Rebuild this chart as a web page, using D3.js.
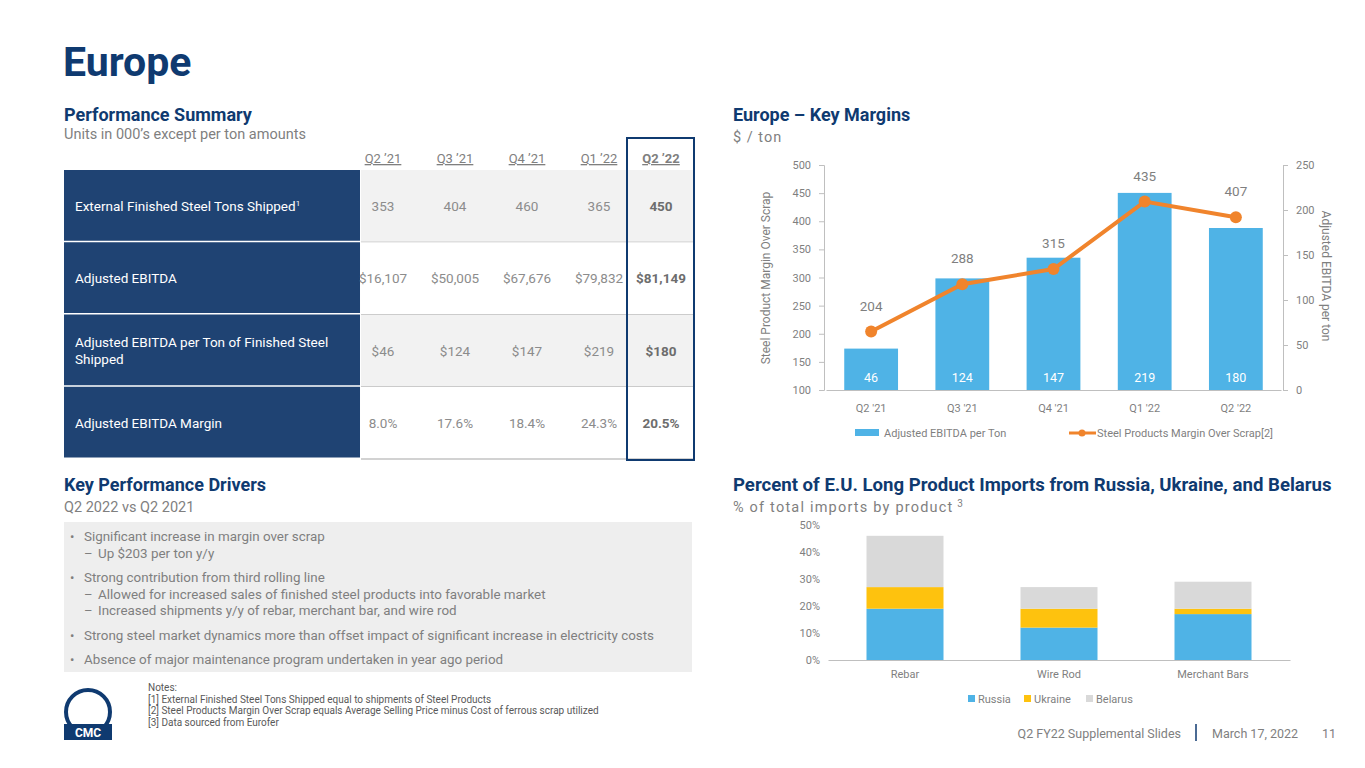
<!DOCTYPE html>
<html><head><meta charset="utf-8">
<script src="https://cdn.jsdelivr.net/npm/d3@7"></script>
<style>body{margin:0;background:#fff;font-family:Roboto,"Noto Sans",sans-serif}</style>
</head><body><svg id="slide" width="1365" height="768"></svg>
<script>
// table data
const quarters = ["Q2 ’21", "Q3 ’21", "Q4 ’21", "Q1 ’22", "Q2 ’22"];
const rowLabels = [["External Finished Steel Tons Shipped"], ["Adjusted EBITDA"], ["Adjusted EBITDA per Ton of Finished Steel", "Shipped"], ["Adjusted EBITDA Margin"]];
const tonsShipped = ["353", "404", "460", "365", "450"];
const adjEbitda = ["$16,107", "$50,005", "$67,676", "$79,832", "$81,149"];
const ebitdaPerTon = ["$46", "$124", "$147", "$219", "$180"];
const ebitdaMargin = ["8.0%", "17.6%", "18.4%", "24.3%", "20.5%"];

// key margins chart
const marginQuarters = ["Q2 '21", "Q3 '21", "Q4 '21", "Q1 '22", "Q2 '22"];
const ebitdaPerTonVals = [46, 124, 147, 219, 180];
const marginOverScrap = [204, 288, 315, 435, 407];

// imports chart
const products = ["Rebar", "Wire Rod", "Merchant Bars"];
const russia = [19, 12, 17];
const ukraine = [8, 7, 2];
const belarus = [19, 8, 10];

const bullets = [
  [0, "Significant increase in margin over scrap"], [1, "Up $203 per ton y/y"],
  [0, "Strong contribution from third rolling line"], [1, "Allowed for increased sales of finished steel products into favorable market"],
  [1, "Increased shipments y/y of rebar, merchant bar, and wire rod"],
  [0, "Strong steel market dynamics more than offset impact of significant increase in electricity costs"],
  [0, "Absence of major maintenance program undertaken in year ago period"]
];
const notes = ["Notes:", "[1]  External Finished Steel Tons Shipped equal to shipments of Steel Products",
  "[2]  Steel Products Margin Over Scrap equals Average Selling Price minus Cost of ferrous scrap utilized",
  "[3]  Data sourced from Eurofer"];

const navy = "#1f4373", blue = "#4fb3e6", orange = "#f0842c", gold = "#fec20e", grayBar = "#d9d9d9";
const svg = d3.select("#slide");
const txt = (x, y, s, o = {}) => svg.append("text").attr("x", x).attr("y", y).text(s)
  .attr("font-size", o.size || 12).attr("fill", o.fill || "#7f7f7f").attr("font-weight", o.weight || 400)
  .attr("text-anchor", o.anchor || "start");

txt(63, 76, "Europe", {size: 41, fill: "#0f3a70", weight: 700});
txt(64, 121, "Performance Summary", {size: 18, fill: "#0f3a70", weight: 700});
txt(64, 139, "Units in 000’s except per ton amounts", {size: 14.5});
txt(733, 121, "Europe – Key Margins", {size: 18, fill: "#0f3a70", weight: 700});
txt(733, 142, "$ / ton", {size: 14.5}).attr("letter-spacing", 1);
txt(64, 491, "Key Performance Drivers", {size: 18, fill: "#0f3a70", weight: 700});
txt(64, 512, "Q2 2022 vs Q2 2021", {size: 14.5});
txt(733, 491, "Percent of E.U. Long Product Imports from Russia, Ukraine, and Belarus", {size: 18.6, fill: "#0f3a70", weight: 700});
txt(733, 512, "% of total imports by product", {size: 14.5}).attr("letter-spacing", 1.2)
  .append("tspan").attr("dy", -5).attr("font-size", 10).text(" 3");

// ---- table
const rows = [tonsShipped, adjEbitda, ebitdaPerTon, ebitdaMargin];
const ty = d3.scaleBand().domain(d3.range(4)).range([170, 459]);
const tx = d3.scaleBand().domain(quarters).range([347, 707]);
rows.forEach((r, i) => {
  const y0 = ty(i), h = ty.bandwidth();
  svg.append("rect").attr("x", 361).attr("y", y0).attr("width", 333).attr("height", h).attr("fill", i % 2 ? "#fff" : "#f2f2f2");
  svg.append("rect").attr("x", 64).attr("y", y0).attr("width", 296).attr("height", h - 1.5).attr("fill", navy);
  svg.append("line").attr("x1", 361).attr("x2", 694).attr("y1", y0 + h).attr("y2", y0 + h).attr("stroke", "#a6a6a6").attr("stroke-width", 1.2);
  const lab = rowLabels[i];
  lab.forEach((l, k) => {
    const t = txt(75, y0 + h / 2 + 5 + (k - (lab.length - 1) / 2) * 17, l, {size: 13.5, fill: "#fff"});
    if (i === 0) t.append("tspan").attr("dy", -5).attr("font-size", 8).text("1");
  });
  r.forEach((v, j) => txt(tx(quarters[j]) + tx.bandwidth() / 2 + (j === 4 ? -10 : 0), y0 + h / 2 + 5, v,
    {size: 13.5, anchor: "middle", fill: j === 4 ? "#6d6d6d" : "#8c8c8c", weight: j === 4 ? 700 : 400}));
});
quarters.forEach((q, j) => {
  txt(tx(q) + tx.bandwidth() / 2 + (j === 4 ? -10 : 0), 163, q, {size: 13, anchor: "middle", weight: j === 4 ? 700 : 400})
    .attr("text-decoration", "underline");
});
svg.append("rect").attr("x", 627).attr("y", 138).attr("width", 67).attr("height", 322).attr("fill", "none").attr("stroke", "#0f3a70").attr("stroke-width", 2);

// ---- key margins chart
const x1 = d3.scaleBand().domain(marginQuarters).range([826, 1281]).paddingInner(0.41).paddingOuter(0.2);
const yL = d3.scaleLinear().domain([100, 500]).range([390, 165]);
const yR = d3.scaleLinear().domain([0, 250]).range([390, 165]);
const g1 = svg.append("g");
g1.append("g").attr("transform", "translate(824,0)").call(d3.axisLeft(yL).ticks(8).tickSize(5).tickPadding(8));
g1.append("g").attr("transform", "translate(1283,0)").call(d3.axisRight(yR).ticks(5).tickSize(5).tickPadding(8));
g1.append("g").attr("transform", "translate(0,390)").call(d3.axisBottom(x1).tickSize(0).tickPadding(14));
g1.selectAll(".domain,.tick line").attr("stroke", "#bfbfbf");
g1.selectAll(".tick text").attr("fill", "#7f7f7f").attr("font-size", 11).attr("font-family", "Roboto");
g1.selectAll(".bar").data(ebitdaPerTonVals).join("rect").attr("x", (d, i) => x1(marginQuarters[i]))
  .attr("width", x1.bandwidth()).attr("y", d => yR(d)).attr("height", d => yR(0) - yR(d)).attr("fill", blue);
ebitdaPerTonVals.forEach((d, i) => txt(x1(marginQuarters[i]) + x1.bandwidth() / 2, 382, d, {size: 12.5, fill: "#fff", anchor: "middle"}));
const cx = i => x1(marginQuarters[i]) + x1.bandwidth() / 2;
g1.append("path").datum(marginOverScrap).attr("d", d3.line().x((d, i) => cx(i)).y(d => yL(d)))
  .attr("fill", "none").attr("stroke", orange).attr("stroke-width", 4);
marginOverScrap.forEach((d, i) => {
  g1.append("circle").attr("cx", cx(i)).attr("cy", yL(d)).attr("r", 6).attr("fill", orange);
  txt(cx(i), yL(d) - 21, d, {size: 13.5, anchor: "middle"});
});
txt(0, 0, "Steel Product Margin Over Scrap", {size: 12, anchor: "middle"}).attr("transform", "translate(770,278) rotate(-90)");
txt(0, 0, "Adjusted EBITDA per ton", {size: 12, anchor: "middle"}).attr("transform", "translate(1322,276) rotate(90)");
svg.append("rect").attr("x", 855).attr("y", 429).attr("width", 24).attr("height", 7).attr("fill", blue);
txt(884, 437, "Adjusted EBITDA per Ton", {size: 11});
svg.append("line").attr("x1", 1069).attr("x2", 1096).attr("y1", 433).attr("y2", 433).attr("stroke", orange).attr("stroke-width", 3);
svg.append("circle").attr("cx", 1082).attr("cy", 433).attr("r", 3.5).attr("fill", orange);
txt(1097, 437, "Steel Products Margin Over Scrap[2]", {size: 11});

// ---- imports chart
const x2 = d3.scaleBand().domain(products).range([828, 1290]).paddingInner(0.5).paddingOuter(0.25);
const y2 = d3.scaleLinear().domain([0, 50]).range([660, 525]);
const g2 = svg.append("g");
g2.append("g").attr("transform", "translate(828,0)").call(d3.axisLeft(y2).ticks(5).tickFormat(d => d + "%").tickSize(0).tickPadding(8));
g2.append("g").attr("transform", "translate(0,660)").call(d3.axisBottom(x2).tickSize(0).tickPadding(10));
g2.selectAll(".domain").attr("stroke", "#bfbfbf");
g2.select("g").select(".domain").remove();
g2.selectAll(".tick text").attr("fill", "#7f7f7f").attr("font-size", 11).attr("font-family", "Roboto");
const stackData = products.map((p, i) => ({p, Russia: russia[i], Ukraine: ukraine[i], Belarus: belarus[i]}));
const series = d3.stack().keys(["Russia", "Ukraine", "Belarus"])(stackData);
const cols = [blue, gold, grayBar];
series.forEach((s, k) => g2.selectAll(null).data(s).join("rect").attr("x", d => x2(d.data.p)).attr("width", x2.bandwidth())
  .attr("y", d => y2(d[1])).attr("height", d => y2(d[0]) - y2(d[1])).attr("fill", cols[k]));
[["Russia", 968], ["Ukraine", 1024], ["Belarus", 1086]].forEach(([n, lx], k) => {
  svg.append("rect").attr("x", lx).attr("y", 695).attr("width", 7).attr("height", 7).attr("fill", cols[k]);
  txt(lx + 10, 703, n, {size: 11});
});

// ---- bullets
svg.append("rect").attr("x", 64).attr("y", 522).attr("width", 628).attr("height", 150).attr("fill", "#eeeeee");
let by = 541;
bullets.forEach(([lvl, s], i) => {
  if (i > 0 && lvl === 0) by += 8;
  txt(lvl ? 84 : 70, by, lvl ? "–" : "•", {size: 13});
  txt(lvl ? 98 : 84, by, s, {size: 13.4});
  by += 16.5;
});

// ---- notes + footer
notes.forEach((n, i) => txt(148, 691 + i * 11.5, n, {size: 10, fill: "#595959"}));
const logo = svg.append("g").attr("transform", "translate(88,720)");
logo.append("circle").attr("r", 22).attr("cy", -8).attr("fill", "none").attr("stroke", "#0f3a70").attr("stroke-width", 4);
logo.append("rect").attr("x", -24).attr("y", 4).attr("width", 48).attr("height", 16).attr("fill", "#0f3a70");
logo.append("text").attr("y", 17).attr("text-anchor", "middle").attr("fill", "#fff").attr("font-size", 12).attr("font-weight", 700).text("CMC");
txt(1181, 738, "Q2 FY22 Supplemental Slides", {size: 12.5, anchor: "end"});
svg.append("line").attr("x1", 1196).attr("x2", 1196).attr("y1", 724).attr("y2", 741).attr("stroke", "#0f3a70").attr("stroke-width", 1.5);
txt(1212, 738, "March 17, 2022", {size: 12.5});
txt(1322, 738, "11", {size: 12.5});
</script></body></html>
